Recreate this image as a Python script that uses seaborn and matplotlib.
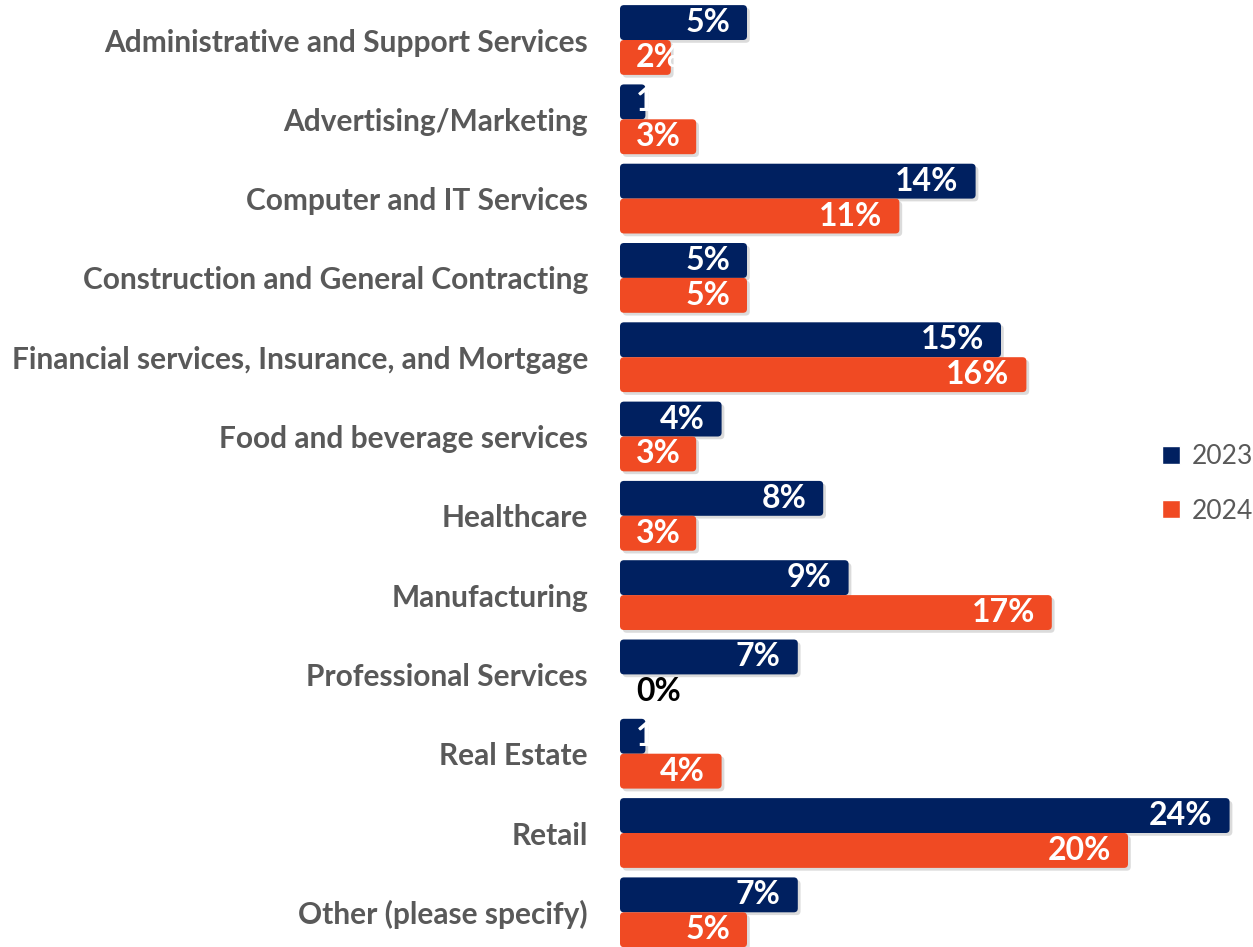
import matplotlib
matplotlib.use("Agg")
import matplotlib.pyplot as plt
import seaborn as sns
import pandas as pd
from matplotlib.patches import FancyBboxPatch
from matplotlib import patheffects as pe

# Share of respondents by industry, per survey year (percent)
industries = [
    "Administrative and Support Services",
    "Advertising/Marketing",
    "Computer and IT Services",
    "Construction and General Contracting",
    "Financial services, Insurance, and Mortgage",
    "Food and beverage services",
    "Healthcare",
    "Manufacturing",
    "Professional Services",
    "Real Estate",
    "Retail",
    "Other (please specify)",
]
years = ["2023", "2024"]
share_2023 = [5, 1, 14, 5, 15, 4, 8, 9, 7, 1, 24, 7]
share_2024 = [2, 3, 11, 5, 16, 3, 3, 17, 0, 4, 20, 5]

NAVY = "#002060"
ORANGE = "#F04A23"
GREY_TEXT = "#595959"

df = pd.DataFrame({
    "Industry": industries * 2,
    "Year": [years[0]] * len(industries) + [years[1]] * len(industries),
    "Share": share_2023 + share_2024,
})

sns.set_theme(style="white")
plt.rcParams["font.family"] = ["Lato", "DejaVu Sans"]

W, H = 1253, 947
fig = plt.figure(figsize=(W / 100, H / 100), dpi=100)

# axes geometry in pixels
px_left, px_right = 620, 1240
px_per_unit = 25.4
pitch = 79.3
first_center = 40
top = first_center - pitch / 2
bottom = first_center + pitch * (len(industries) - 0.5)
ax = fig.add_axes([px_left / W, 1 - bottom / H,
                   (px_right - px_left) / W, (bottom - top) / H])

sns.barplot(data=df, y="Industry", x="Share", hue="Year", orient="h",
            palette=[NAVY, ORANGE], width=0.88, saturation=1, gap=0,
            ax=ax, legend=True)

ax.set_xlim(0, (px_right - px_left) / px_per_unit)
ax.set_ylim(len(industries) - 0.5, -0.5)
ax.set_xlabel("")
ax.set_ylabel("")
ax.set_xticks([])
for s in ax.spines.values():
    s.set_visible(False)
ax.tick_params(axis="y", length=0, pad=23)
for lbl in ax.get_yticklabels():
    lbl.set_fontsize(21.5)
    lbl.set_fontweight("bold")
    lbl.set_color(GREY_TEXT)

# Rounded bars with a soft drop shadow
aspect = px_per_unit / pitch
radius = 4 / px_per_unit
shadow = [pe.SimplePatchShadow(offset=(2, -2), shadow_rgbFace="#8a8a8a", alpha=0.3), pe.Normal()]
for container in ax.containers:
    for bar in container:
        w = bar.get_width()
        bar.set_visible(False)
        if w <= 0:
            continue
        rounded = FancyBboxPatch(
            (bar.get_x(), bar.get_y()), w, bar.get_height(),
            boxstyle=f"round,pad=0,rounding_size={radius}",
            mutation_aspect=aspect,
            facecolor=bar.get_facecolor(), edgecolor="none",
            path_effects=shadow, zorder=2,
        )
        ax.add_patch(rounded)

# Value labels at the inner end of each bar
label_w = 44
for container, values in zip(ax.containers, [share_2023, share_2024]):
    for bar, v in zip(container, values):
        yc = bar.get_y() + bar.get_height() / 2
        end_px = v * px_per_unit
        color = "white" if v > 0 else "black"
        if end_px - 17 < 16 + label_w:
            ax.annotate(f"{v}%", xy=(0, yc), xytext=(16, 0), textcoords="offset pixels",
                        ha="left", va="center", fontsize=23, fontweight="bold",
                        color=color, zorder=3)
        else:
            ax.annotate(f"{v}%", xy=(v, yc), xytext=(-17, 0), textcoords="offset pixels",
                        ha="right", va="center", fontsize=23, fontweight="bold",
                        color=color, zorder=3)

sns.move_legend(ax, "center left", bbox_to_anchor=(1162 / W, 1 - 484 / H),
                bbox_transform=fig.transFigure, title=None, frameon=False,
                borderaxespad=0, borderpad=0,
                handlelength=0.68, handleheight=0.68, handletextpad=0.45,
                labelspacing=1.1, fontsize=19, labelcolor=GREY_TEXT)

fig.savefig("out.png", dpi=100)
